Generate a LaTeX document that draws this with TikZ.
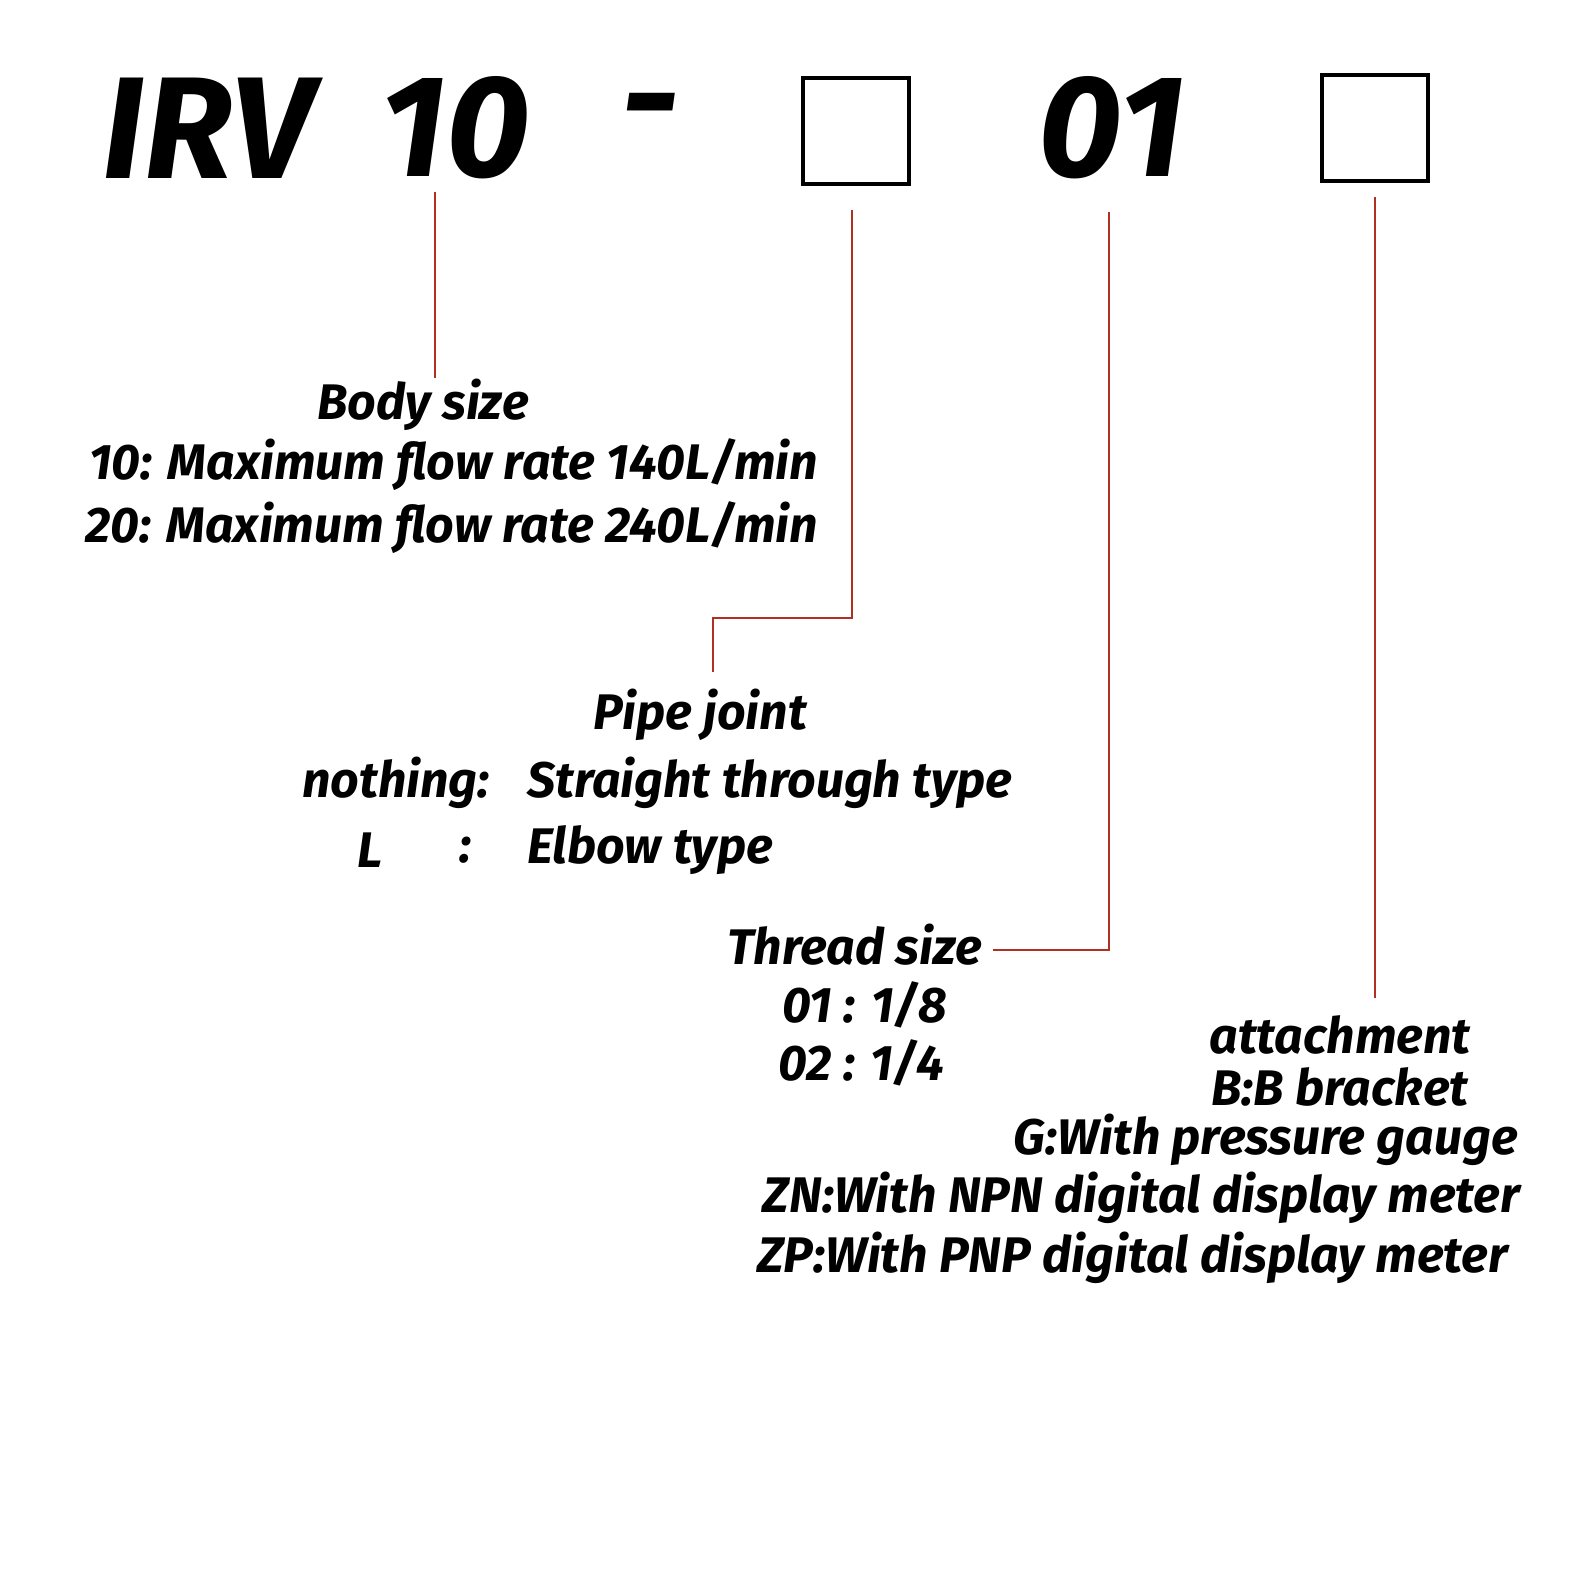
\documentclass[tikz,border=0pt]{standalone}
\usepackage{fontspec}
\setmainfont{Fira Sans}
\usetikzlibrary{positioning}
\definecolor{leadred}{RGB}{176,48,36}
\tikzset{
  code/.style={font=\fontsize{145}{150}\selectfont\bfseries\itshape, inner sep=0pt},
  note/.style={font=\fontsize{50}{62}\selectfont\bfseries\itshape, inner sep=0pt},
  slot/.style={draw=black, line width=4pt, minimum width=106pt, minimum height=106pt, inner sep=0pt},
  lead/.style={draw=leadred, line width=2pt}
}
\begin{document}
\begin{tikzpicture}[x=1pt,y=-1pt]
\useasboundingbox (0,0) rectangle (1570,1570);

% code line
\node[code] (irv)  at (208,128) {IRV};
\node[code] (size) at (455,128) {10};
\node[code] (dash) at (650,120) {-};
\node[slot] (box1) at (856,131) {};
\node[code] (thr)  at (1112,128) {01};
\node[slot] (box2) at (1375,128) {};

% body size
\coordinate (b0) at (435,192);
\coordinate (b1) at (435,378);
\draw[lead] (b0) -- (b1);
\node[note] (body) at (423,405) {Body size};
\node[note, anchor=east] (body10) at (818,465) {10: Maximum flow rate 140L/min};
\node[note, anchor=east] (body20) at (818,528) {20: Maximum flow rate 240L/min};

% pipe joint
\coordinate (p0) at (852,210);
\coordinate (p1) at (852,618);
\coordinate (p2) at (713,618);
\coordinate (p3) at (713,672);
\draw[lead] (p0) -- (p1) -- (p2) -- (p3);
\node[note] (pipe) at (700,715) {Pipe joint};
\node[note, anchor=east] (pnone) at (490,783) {nothing:};
\node[note, anchor=west] (pstr)  at (527,783) {Straight through type};
\node[note] (pl) at (370,850) {L};
\node[note] (pcol) at (465,850) {:};
\node[note, anchor=west] (pelb) at (527,850) {Elbow type};

% thread size
\coordinate (t0) at (1109,212);
\coordinate (t1) at (1109,950);
\coordinate (t2) at (993,950);
\draw[lead] (t0) -- (t1) -- (t2);
\node[note, anchor=east] (thread) at (982,945) {Thread size};
\node[note, anchor=west] (t01) at (782,1005) {01 : 1/8};
\node[note, anchor=west] (t02) at (778,1063) {02 : 1/4};

% attachment
\coordinate (a0) at (1375,197);
\coordinate (a1) at (1375,998);
\draw[lead] (a0) -- (a1);
\node[note] (att) at (1340,1035) {attachment};
\node[note] (attb) at (1340,1087) {B:B bracket};
\node[note, anchor=east] (attg) at (1518,1140) {G:With pressure gauge};
\node[note, anchor=east] (attzn) at (1520,1198) {ZN:With NPN digital display meter};
\node[note, anchor=east] (attzp) at (1508,1258) {ZP:With PNP digital display meter};
\end{tikzpicture}
\end{document}
